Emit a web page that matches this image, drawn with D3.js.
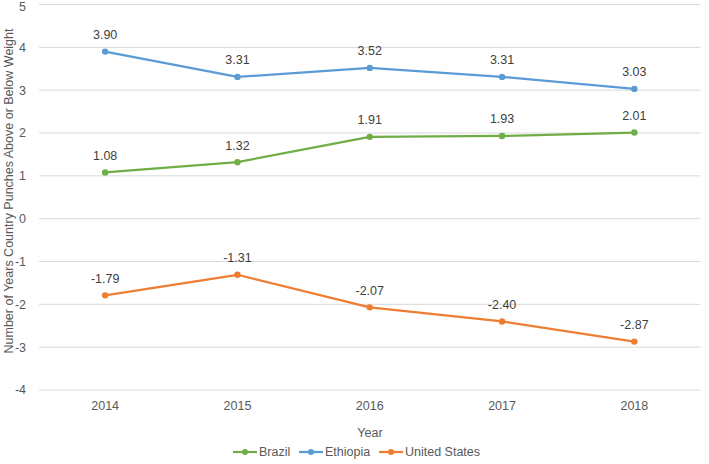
<!DOCTYPE html>
<html><head><meta charset="utf-8">
<script src="https://cdn.jsdelivr.net/npm/d3@7"></script>
<style>body{margin:0;background:#fff;}svg{display:block;font-family:"Liberation Sans",Arial,sans-serif;}</style>
</head><body>
<svg id="c" width="709" height="464"></svg>
<script>
const years = ["2014","2015","2016","2017","2018"];
const brazil = [1.08, 1.32, 1.91, 1.93, 2.01];
const ethiopia = [3.90, 3.31, 3.52, 3.31, 3.03];
const unitedStates = [-1.79, -1.31, -2.07, -2.40, -2.87];
const yTicks = [-4,-3,-2,-1,0,1,2,3,4,5];
const series = [
  {name:"Brazil", values:brazil, color:"#70AD47"},
  {name:"Ethiopia", values:ethiopia, color:"#5B9BD5"},
  {name:"United States", values:unitedStates, color:"#ED7D31"}
];
const svg = d3.select("#c");
const mLeft = 39, mRight = 700.5, mTop = 4.5, mBottom = 390;
const x = d3.scaleBand().domain(years).range([mLeft,mRight]);
const y = d3.scaleLinear().domain([-4,5]).range([mBottom,mTop]);
const tc = "#595959";
const fs = 12.5;
// gridlines
svg.append("g").selectAll("line").data(yTicks).join("line")
  .attr("x1",mLeft).attr("x2",mRight).attr("y1",d=>y(d)).attr("y2",d=>y(d))
  .attr("stroke","#d9d9d9").attr("stroke-width",1);
// y tick labels
svg.append("g").selectAll("text").data(yTicks).join("text")
  .attr("x",26).attr("y",d=>Math.max(y(d),7)).attr("dy","0.35em").attr("text-anchor","end")
  .attr("fill",tc).attr("font-size",fs).text(d=>d);
// x tick labels
svg.append("g").selectAll("text").data(years).join("text")
  .attr("x",d=>x(d)+x.bandwidth()/2).attr("y",406).attr("dy","0.35em").attr("text-anchor","middle")
  .attr("fill",tc).attr("font-size",fs).text(d=>d);
// axis titles
svg.append("text").attr("x",370).attr("y",433).attr("dy","0.35em").attr("text-anchor","middle")
  .attr("fill",tc).attr("font-size",fs).text("Year");
svg.append("text").attr("transform","translate(9,191) rotate(-90)")
  .attr("dy","0.35em").attr("text-anchor","middle").attr("fill",tc).attr("font-size",fs)
  .text("Number of Years Country Punches Above or Below Weight");
const cx = i => x(years[i]) + x.bandwidth()/2;
const line = d3.line().x((d,i)=>cx(i)).y(d=>y(d));
series.forEach(s=>{
  const g = svg.append("g");
  g.append("path").attr("d",line(s.values)).attr("fill","none").attr("stroke",s.color)
    .attr("stroke-width",2.25).attr("stroke-linejoin","round").attr("stroke-linecap","round");
  g.selectAll("circle").data(s.values).join("circle")
    .attr("cx",(d,i)=>cx(i)).attr("cy",d=>y(d)).attr("r",3.2).attr("fill",s.color);
  g.selectAll("text").data(s.values).join("text")
    .attr("x",(d,i)=>cx(i)).attr("y",d=>y(d)-17).attr("dy","0.35em").attr("text-anchor","middle")
    .attr("fill","#404040").attr("font-size",fs).text(d=>d.toFixed(2));
});
// legend
const legX = [233, 299, 379];
const lg = svg.append("g");
series.forEach((s,i)=>{
  const gx = legX[i], gy = 452;
  lg.append("line").attr("x1",gx).attr("x2",gx+24).attr("y1",gy).attr("y2",gy)
    .attr("stroke",s.color).attr("stroke-width",2.25);
  lg.append("circle").attr("cx",gx+12).attr("cy",gy).attr("r",3).attr("fill",s.color);
  lg.append("text").attr("x",gx+26).attr("y",gy).attr("dy","0.35em").attr("fill",tc)
    .attr("font-size",fs).text(s.name);
});
</script>
</body></html>
